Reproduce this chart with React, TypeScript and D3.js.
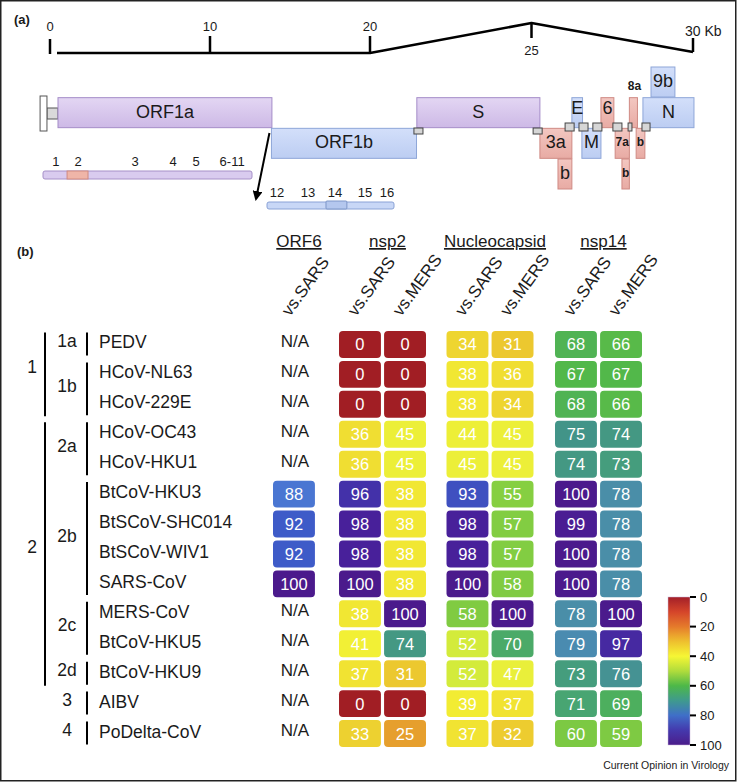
import React from "react";
import * as d3 from "d3";

const FONT = "'Liberation Sans', Arial, Helvetica, sans-serif";

// ---- panel (a): genome map, positions in kb ----
const kbTicks = [0, 10, 20, 25, 30];
// frame: 0 = top lane, 1 = middle, 2 = bottom, -1 = above
const genes = [
  { id: "ORF1a", label: "ORF1a", start: 0.5, end: 13.87, frame: 0, group: "replicase" },
  { id: "ORF1b", label: "ORF1b", start: 13.84, end: 21.44, frame: 1, group: "core" },
  { id: "S", label: "S", start: 21.45, end: 25.26, frame: 0, group: "replicase" },
  { id: "3a", label: "3a", start: 25.26, end: 26.25, frame: 1, group: "accessory" },
  { id: "3b", label: "b", start: 25.82, end: 26.25, frame: 2, group: "accessory" },
  { id: "E", label: "E", start: 26.25, end: 26.58, frame: 0, group: "core" },
  { id: "M", label: "M", start: 26.56, end: 27.15, frame: 1, group: "core" },
  { id: "6", label: "6", start: 27.15, end: 27.55, frame: 0, group: "accessory" },
  { id: "7a", label: "7a", start: 27.59, end: 28.03, frame: 1, group: "accessory" },
  { id: "7b", label: "b", start: 27.8, end: 28.03, frame: 2, group: "accessory" },
  { id: "8a", label: "8a", start: 28.03, end: 28.28, frame: 0, group: "accessory" },
  { id: "8b", label: "b", start: 28.24, end: 28.51, frame: 1, group: "accessory" },
  { id: "N", label: "N", start: 28.45, end: 30.03, frame: 0, group: "core" },
  { id: "9b", label: "9b", start: 28.7, end: 29.44, frame: -1, group: "core" },
];
const smallLabels = ["7a", "7b", "8a", "8b"];
const labelAbove = ["8a"];
const labelLift = ["E", "6"];
// TRS boxes (kb)
const trsLow = [[21.36, 21.64], [25.05, 25.33]];
const trsHigh = [[26.04, 26.32], [26.47, 26.75], [26.9, 27.18], [27.52, 27.8], [27.99, 28.11], [28.42, 28.67]];
const leader = [-0.19, 0.5];
const cap = [-0.62, -0.19];

// nsp labels (kb along ORF1a / ORF1b)
const nsp1aLabels = [["1", 1.33], ["2", 2.74], ["3", 6.39], ["4", 8.82], ["5", 10.29], ["6-11", 12.6]];
const nsp1bLabels = [["12", 14.44], ["13", 16.29], ["14", 17.91], ["15", 19.7], ["16", 21.02]];
const nsp2Range = [2.04, 3.38];
const nsp14Range = [17.37, 18.62];

// ---- panel (b): identity table ----
const strains = [
  "PEDV", "HCoV-NL63", "HCoV-229E", "HCoV-OC43", "HCoV-HKU1", "BtCoV-HKU3",
  "BtSCoV-SHC014", "BtSCoV-WIV1", "SARS-CoV", "MERS-CoV", "BtCoV-HKU5",
  "BtCoV-HKU9", "AIBV", "PoDelta-CoV",
];
const genera = [
  { label: "1", from: "PEDV", to: "HCoV-229E" },
  { label: "2", from: "HCoV-OC43", to: "BtCoV-HKU9" },
];
const lineages = [
  { label: "1a", from: "PEDV", to: "PEDV" },
  { label: "1b", from: "HCoV-NL63", to: "HCoV-229E" },
  { label: "2a", from: "HCoV-OC43", to: "HCoV-HKU1" },
  { label: "2b", from: "BtCoV-HKU3", to: "SARS-CoV" },
  { label: "2c", from: "MERS-CoV", to: "BtCoV-HKU5" },
  { label: "2d", from: "BtCoV-HKU9", to: "BtCoV-HKU9" },
  { label: "3", from: "AIBV", to: "AIBV" },
  { label: "4", from: "PoDelta-CoV", to: "PoDelta-CoV" },
];
const proteins = ["ORF6", "nsp2", "Nucleocapsid", "nsp14"];
const orf6VsSars = [null, null, null, null, null, 88, 92, 92, 100, null, null, null, null, null];
const nsp2VsSars = [0, 0, 0, 36, 36, 96, 98, 98, 100, 38, 41, 37, 0, 33];
const nsp2VsMers = [0, 0, 0, 45, 45, 38, 38, 38, 38, 100, 74, 31, 0, 25];
const nVsSars = [34, 38, 38, 44, 45, 93, 98, 98, 100, 58, 52, 52, 39, 37];
const nVsMers = [31, 36, 34, 45, 45, 55, 57, 57, 58, 100, 70, 47, 37, 32];
const nsp14VsSars = [68, 67, 68, 75, 74, 100, 99, 100, 100, 78, 79, 73, 71, 60];
const nsp14VsMers = [66, 67, 66, 74, 73, 78, 78, 78, 78, 100, 97, 76, 69, 59];
const columns = [
  { protein: "ORF6", ref: "SARS", values: orf6VsSars },
  { protein: "nsp2", ref: "SARS", values: nsp2VsSars },
  { protein: "nsp2", ref: "MERS", values: nsp2VsMers },
  { protein: "Nucleocapsid", ref: "SARS", values: nVsSars },
  { protein: "Nucleocapsid", ref: "MERS", values: nVsMers },
  { protein: "nsp14", ref: "SARS", values: nsp14VsSars },
  { protein: "nsp14", ref: "MERS", values: nsp14VsMers },
];
const legendTicks = [0, 20, 40, 60, 80, 100];

// cell colours
const colorStops = [0, 10, 20, 30, 40, 47, 52, 55, 60, 67, 71, 75, 78, 82, 88, 92, 95, 98, 100];
const colorValues = [
  "#a11e24", "#c9382a", "#e07a2b", "#ebc32e", "#f3f034", "#e9ef3a", "#d3eb3b", "#86cf41",
  "#7cc943", "#52b84a", "#48a572", "#429488", "#4a8ea8", "#4a80c8", "#4a76d2", "#3e5bc8",
  "#413ab0", "#48209a", "#4b1a8c",
];
// colour bar
const barStops = [0, 10, 20, 30, 40, 50, 60, 70, 80, 90, 100];
const barColors = [
  "#a31f28", "#d5452a", "#e57a2b", "#eebf2e", "#f6f634", "#b0dc3c", "#4db848",
  "#3f9a8e", "#3f6fc8", "#4439ad", "#4b1c8a",
];

const fills: Record<string, [string, string, string]> = {
  replicase: ["#e3d6f3", "#cdb9e6", "#a48cc8"],
  core: ["#d3dffa", "#bccdf2", "#8ea6d8"],
  accessory: ["#f3c7c1", "#e8aba4", "#cf8a84"],
};

export default function App() {
  const xKb = d3.scaleLinear().domain([0, 20, 30]).range([50, 370, 693]);
  const laneY = d3.scaleLinear().domain([-1, 2]).range([67, 159]);
  const laneH = 30;

  const orf1a = genes[0];
  const orf1b = genes[1];
  const x1a = d3.scaleLinear().domain([orf1a.start, orf1a.end]).range([43, 252]);
  const x1b = d3.scaleLinear().domain([orf1b.start, orf1b.end]).range([267, 394]);

  const color = d3.scaleLinear<string>().domain(colorStops).range(colorValues).clamp(true);
  const barColor = d3.scaleLinear<string>().domain(barStops).range(barColors);

  const y = d3.scaleBand().domain(strains).range([329.5, 748.5]).paddingInner(0.1).paddingOuter(0.05);
  const rowC = (s: string) => (y(s) as number) + y.bandwidth() / 2;
  const groupX = d3.scaleOrdinal<string, number>().domain(proteins).range([273, 339, 446.5, 555]);
  const refX = d3.scaleBand().domain(["SARS", "MERS"]).range([0, 87]).paddingInner(0.07);
  const colX = (c: { protein: string; ref: string }) =>
    c.protein === "ORF6" ? groupX(c.protein) : groupX(c.protein) + (refX(c.ref) as number);
  const cw = refX.bandwidth();

  const legendY = d3.scaleLinear().domain([0, 100]).range([597, 745]);

  const text = { fontFamily: FONT, fill: "#1a1a1a" } as const;

  return (
    <svg width={737} height={782} style={{ display: "block" }}>
      <style>{"body{margin:0}"}</style>
      <defs>
        {Object.entries(fills).map(([k, c]) => (
          <linearGradient key={k} id={`g-${k}`} x1="0" y1="0" x2="0" y2="1">
            <stop offset="0" stopColor={c[0]} />
            <stop offset="1" stopColor={c[1]} />
          </linearGradient>
        ))}
        <linearGradient id="legend" x1="0" y1="0" x2="0" y2="1">
          {d3.range(0, 101, 5).map((v) => (
            <stop key={v} offset={v / 100} stopColor={barColor(v)} />
          ))}
        </linearGradient>
        <marker id="arrow" viewBox="0 0 10 10" refX="8" refY="5" markerWidth="5" markerHeight="5" orient="auto">
          <path d="M0,0 L10,5 L0,10 z" fill="#000" />
        </marker>
      </defs>
      <rect x={0.75} y={0.75} width={735} height={780} fill="#fff" stroke="#222" strokeWidth={1.5} />

      {/* (a) */}
      <text x={14} y={24} {...text} fontSize={13} fontWeight="bold">(a)</text>
      <path
        d={`M${xKb(0) + 7},53 L${xKb(20)},53 L${xKb(25)},23 L${xKb(30)},52`}
        fill="none" stroke="#000" strokeWidth={2.5} strokeLinejoin="round"
      />
      {kbTicks.map((k) => {
        const x = xKb(k);
        const [y1, y2] = k === 25 ? [23, 38] : k === 30 ? [38, 52] : k === 0 ? [39, 54] : [36, 53];
        return <line key={k} x1={x} x2={x} y1={y1} y2={y2} stroke="#000" strokeWidth={2.5} />;
      })}
      {kbTicks.map((k) =>
        k === 25 ? (
          <text key={k} x={xKb(k)} y={55} textAnchor="middle" {...text} fontSize={13}>25</text>
        ) : k === 30 ? (
          <text key={k} x={xKb(k) - 8} y={36} {...text} fontSize={14}>30 Kb</text>
        ) : (
          <text key={k} x={xKb(k)} y={31} textAnchor="middle" {...text} fontSize={13}>{k}</text>
        )
      )}

      {/* cap + leader */}
      <rect x={xKb(leader[0])} y={108} width={xKb(leader[1]) - xKb(leader[0])} height={11} fill="#d9d9d9" stroke="#555" />
      <rect x={xKb(cap[0])} y={96} width={xKb(cap[1]) - xKb(cap[0])} height={35} fill="#fff" stroke="#555" />

      {genes.map((g) => {
        const x0 = xKb(g.start);
        const x1 = xKb(g.end);
        const y0 = laneY(g.frame);
        const small = smallLabels.includes(g.id);
        const above = labelAbove.includes(g.id);
        const lift = labelLift.includes(g.id) ? 4 : 0;
        return (
          <g key={g.id}>
            <rect x={x0} y={y0} width={x1 - x0} height={laneH} fill={`url(#g-${g.group})`} stroke={fills[g.group][2]} strokeWidth={1} />
            <text
              x={(x0 + x1) / 2 + (above ? 1 : 0)}
              y={above ? y0 - 12 : y0 + laneH / 2 - 1 - lift}
              textAnchor="middle"
              dominantBaseline="central"
              {...text}
              fontSize={small ? 12 : 18}
              fontWeight={small ? "bold" : "normal"}
            >
              {g.label}
            </text>
          </g>
        );
      })}
      {trsLow.map(([a, b], i) => (
        <rect key={`l${i}`} x={xKb(a)} y={128} width={xKb(b) - xKb(a)} height={6} fill="#d6d6d6" stroke="#444" strokeWidth={1} />
      ))}
      {trsHigh.map(([a, b], i) => (
        <rect key={`h${i}`} x={xKb(a)} y={123} width={xKb(b) - xKb(a)} height={8} fill="#d6d6d6" stroke="#444" strokeWidth={1} />
      ))}

      {/* nsp bars */}
      <rect x={x1a(orf1a.start)} y={171} width={x1a(orf1a.end) - x1a(orf1a.start)} height={8} rx={2} fill="#d9cbef" stroke="#a690c8" />
      <rect x={x1a(nsp2Range[0])} y={171} width={x1a(nsp2Range[1]) - x1a(nsp2Range[0])} height={8} fill="#efb5a8" stroke="#d08a80" />
      {nsp1aLabels.map(([l, k]) => (
        <text key={l as string} x={x1a(k as number)} y={166} textAnchor="middle" {...text} fontSize={13}>{l}</text>
      ))}
      <rect x={x1b(orf1b.start)} y={202} width={x1b(orf1b.end) - x1b(orf1b.start)} height={7} rx={2} fill="#c8d7f6" stroke="#8aa2d6" />
      <rect x={x1b(nsp14Range[0])} y={201} width={x1b(nsp14Range[1]) - x1b(nsp14Range[0])} height={8} rx={1} fill="#b4c7ee" stroke="#7d96c8" />
      {nsp1bLabels.map(([l, k]) => (
        <text key={l as string} x={x1b(k as number)} y={197} textAnchor="middle" {...text} fontSize={13}>{l}</text>
      ))}
      <line x1={xKb(orf1b.start) - 2} y1={133} x2={256} y2={199} stroke="#000" strokeWidth={2} markerEnd="url(#arrow)" />

      {/* (b) */}
      <text x={17} y={256} {...text} fontSize={13} fontWeight="bold">(b)</text>
      {proteins.map((p) => {
        const cols = columns.filter((c) => c.protein === p);
        const cx = (colX(cols[0]) + colX(cols[cols.length - 1]) + cw) / 2 + 5;
        return (
          <text key={p} x={cx} y={247} textAnchor="middle" {...text} fontSize={17} style={{ textDecoration: "underline" }}>
            {p}
          </text>
        );
      })}
      {columns.map((c) => {
        const x = colX(c) + cw / 2 - 4;
        return (
          <text key={c.protein + c.ref} transform={`translate(${x},317) rotate(-54)`} {...text} fontSize={17}>
            vs.{c.ref}
          </text>
        );
      })}

      {genera.map((g) => {
        const y0 = rowC(g.from) - 12;
        const y1 = rowC(g.to) + 12;
        return (
          <g key={g.label}>
            <line x1={45} x2={45} y1={y0} y2={y1} stroke="#000" strokeWidth={2} />
            <text x={32} y={(y0 + y1) / 2 - 7} textAnchor="middle" dominantBaseline="central" {...text} fontSize={17.5}>{g.label}</text>
          </g>
        );
      })}
      {lineages.map((g) => {
        const y0 = rowC(g.from) - 12;
        const y1 = rowC(g.to) + 11;
        return (
          <g key={g.label}>
            <line x1={87} x2={87} y1={y0} y2={y1} stroke="#000" strokeWidth={2} />
            <text x={67} y={(y0 + y1) / 2 - 3} textAnchor="middle" dominantBaseline="central" {...text} fontSize={17.5}>{g.label}</text>
          </g>
        );
      })}
      {strains.map((s) => (
        <text key={s} x={99} y={rowC(s) - 2} dominantBaseline="central" {...text} fontSize={17.5}>{s}</text>
      ))}

      {columns.map((c) =>
        c.values.map((v, i) => {
          const s = strains[i];
          const x = colX(c);
          if (v === null) {
            return (
              <text key={c.protein + c.ref + s} x={x + 22} y={rowC(s) - 3} textAnchor="middle" dominantBaseline="central" {...text} fontSize={17}>N/A</text>
            );
          }
          return (
            <g key={c.protein + c.ref + s}>
              <rect x={x} y={y(s)} width={cw} height={y.bandwidth()} rx={4} fill={color(v)} />
              <text x={x + cw / 2} y={rowC(s)} textAnchor="middle" dominantBaseline="central" fontFamily={FONT} fontSize={16.5} fill="#fff">
                {v}
              </text>
            </g>
          );
        })
      )}

      {/* colour legend */}
      <rect x={668} y={legendY(0)} width={22} height={legendY(100) - legendY(0)} fill="url(#legend)" stroke="#c9b8dc" strokeWidth={0.5} />
      {legendTicks.map((t) => (
        <g key={t}>
          <line x1={690} x2={696} y1={legendY(t)} y2={legendY(t)} stroke="#000" strokeWidth={2} />
          <text x={700} y={legendY(t)} dominantBaseline="central" {...text} fontSize={13}>{t}</text>
        </g>
      ))}
      <text x={729} y={769} textAnchor="end" {...text} fontSize={10.5}>Current Opinion in Virology</text>
    </svg>
  );
}
